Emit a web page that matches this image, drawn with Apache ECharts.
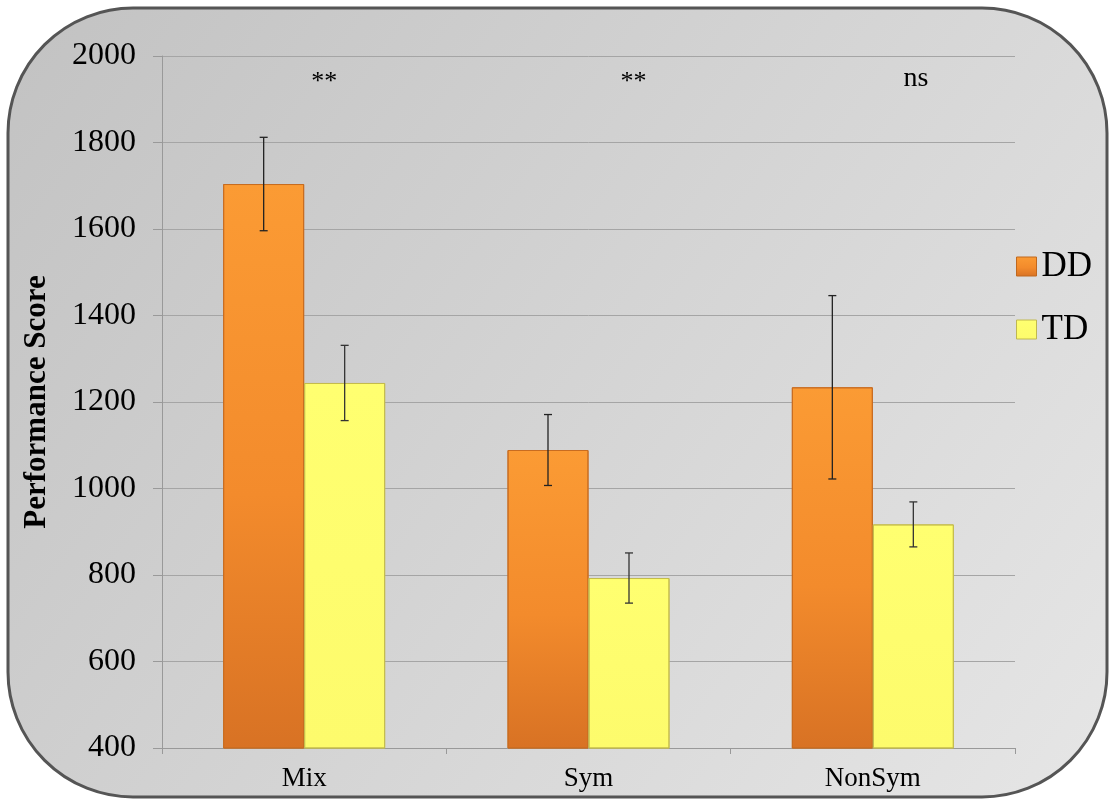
<!DOCTYPE html>
<html>
<head>
<meta charset="utf-8">
<script src="https://cdn.jsdelivr.net/npm/echarts@6/dist/echarts.min.js"></script>
<style>html,body{margin:0;padding:0;background:#fff;}#c{width:1110px;height:805px;}</style>
</head>
<body>
<div id="c"></div>
<script>
var categories = ['Mix', 'Sym', 'NonSym'];
var ddValues = [1704, 1089, 1234];
var ddErrors = [108, 82, 212];
var tdValues = [1244, 793, 917];
var tdErrors = [87, 58, 52];
var significance = ['**', '**', 'ns'];
var yTicks = [400, 600, 800, 1000, 1200, 1400, 1600, 1800, 2000];

var serif = '"Liberation Serif", "DejaVu Serif", serif';
var chart = echarts.init(document.getElementById('c'));

var ddColor = new echarts.graphic.LinearGradient(0, 0, 0, 1, [
  {offset: 0, color: '#fb9b34'}, {offset: 0.55, color: '#f38b2c'}, {offset: 1, color: '#d87224'}]);
var tdColor = new echarts.graphic.LinearGradient(0, 0, 0, 1, [
  {offset: 0, color: '#ffff70'}, {offset: 1, color: '#fdfb6c'}]);

function errSeries(name, values, errors, shift, color) {
  var data = values.map(function (v, i) { return [i, v - errors[i], v + errors[i]]; });
  return {
    type: 'custom', name: name + '_err', silent: true, z: 10,
    encode: {x: 0, y: [1, 2]},
    renderItem: function (params, api) {
      var ci = api.value(0);
      var lo = api.coord([ci, api.value(1)]);
      var hi = api.coord([ci, api.value(2)]);
      var x = lo[0] + shift * 81;
      var cap = 4;
      var st = {stroke: color, lineWidth: 1.3};
      return {type: 'group', children: [
        {type: 'line', shape: {x1: x, y1: lo[1], x2: x, y2: hi[1]}, style: st},
        {type: 'line', shape: {x1: x - cap, y1: lo[1], x2: x + cap, y2: lo[1]}, style: st},
        {type: 'line', shape: {x1: x - cap, y1: hi[1], x2: x + cap, y2: hi[1]}, style: st}
      ]};
    },
    data: data
  };
}

var option = {
  animation: false,
  graphic: [{
    type: 'rect', z: -10, silent: true,
    shape: {x: 8, y: 8, width: 1099, height: 789, r: 125},
    style: {
      fill: new echarts.graphic.LinearGradient(0, 0, 1, 1, [
        {offset: 0, color: '#c2c2c2'}, {offset: 0.5, color: '#d4d4d4'}, {offset: 1, color: '#e6e6e6'}]),
      stroke: '#555555', lineWidth: 3
    }
  }],
  grid: {left: 162, right: 95, top: 56, bottom: 57, containLabel: false},
  legend: {
    orient: 'vertical', left: 1011, top: 244,
    itemWidth: 20, itemHeight: 19, itemGap: 28, icon: 'rect',
    textStyle: {fontFamily: serif, fontSize: 35, color: '#000', lineHeight: 35},
    data: [
      {name: 'DD', itemStyle: {color: ddColor, borderColor: '#c0681e', borderWidth: 1}},
      {name: 'TD', itemStyle: {color: tdColor, borderColor: '#c0b850', borderWidth: 1}}
    ]
  },
  xAxis: {
    type: 'category', data: categories,
    axisLine: {lineStyle: {color: '#999999', width: 1}},
    axisTick: {show: true, length: 6, inside: false, lineStyle: {color: '#999999'}},
    axisLabel: {fontFamily: serif, fontSize: 27, color: '#000', margin: 17}
  },
  yAxis: {
    type: 'value', min: 400, max: 2000, interval: 200,
    name: 'Performance Score', nameLocation: 'middle', nameGap: 110,
    nameTextStyle: {fontFamily: serif, fontSize: 31, fontWeight: 'bold', color: '#000'},
    axisLine: {show: true, lineStyle: {color: '#999999', width: 1}},
    axisTick: {show: true, length: 9, lineStyle: {color: '#999999'}},
    axisLabel: {fontFamily: serif, fontSize: 32, color: '#000', margin: 26,
      formatter: function (v) { return yTicks.indexOf(v) >= 0 ? String(v) : ''; }},
    splitLine: {show: true, lineStyle: {color: '#a5a5a5', width: 1}}
  },
  series: [
    {name: 'DD', type: 'bar', data: ddValues, barWidth: 81, barGap: '0%',
      itemStyle: {color: ddColor, borderColor: '#c86c20', borderWidth: 1}},
    {name: 'TD', type: 'bar', data: tdValues, barWidth: 81, barGap: '0%',
      itemStyle: {color: tdColor, borderColor: '#c4bc4c', borderWidth: 1}},
    errSeries('DD', ddValues, ddErrors, -0.5, '#222222'),
    errSeries('TD', tdValues, tdErrors, 0.5, '#333333')
  ]
};
chart.setOption(option);

// significance annotations placed relative to category centres
var annoOffsets = [20, 45, 43];
var annoSizes = [26, 26, 28];
var annoGraphics = significance.map(function (s, i) {
  var p = chart.convertToPixel({gridIndex: 0}, [i, 1940]);
  return {
    type: 'text', z: 20, silent: true,
    x: p[0] + annoOffsets[i], y: p[1] - (i === 2 ? 3 : 0),
    style: {text: s, fontFamily: serif, fontSize: annoSizes[i], fill: '#000', align: 'center', verticalAlign: 'middle'}
  };
});
chart.setOption({graphic: option.graphic.concat(annoGraphics)});
</script>
</body>
</html>
